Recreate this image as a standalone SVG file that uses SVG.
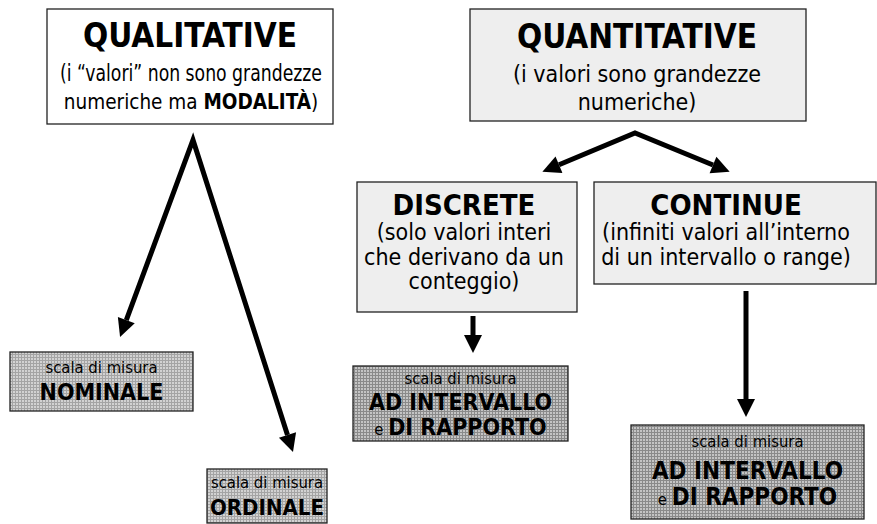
<svg xmlns="http://www.w3.org/2000/svg" width="877" height="524" viewBox="0 0 877 524">
<style>
text{font-family:"DejaVu Sans Condensed","DejaVu Sans",sans-serif;font-stretch:condensed;text-anchor:middle;fill:#000}
.t{font-weight:bold;font-size:33px}
.s{font-size:23px}
.h{font-weight:bold;font-size:29px}
.sm{font-size:16.5px}
.b{font-weight:bold;font-size:23px}
.e{font-weight:normal;font-size:16.5px}
.box{stroke:#222;stroke-width:1.3}
.arrow{fill:none;stroke:#000;stroke-width:5;stroke-linejoin:miter;stroke-miterlimit:10}
</style>
<defs>
<pattern id="gl" width="3" height="3" patternUnits="userSpaceOnUse">
<rect width="3" height="3" fill="#d2d2d2"/>
<path d="M0,0.5H3M0.5,0V3" stroke="#a4a4a4" stroke-width="1"/>
</pattern>
<pattern id="gd" width="3" height="3" patternUnits="userSpaceOnUse">
<rect width="3" height="3" fill="#c4c4c4"/>
<path d="M0,0.5H3M0.5,0V3" stroke="#8a8a8a" stroke-width="1"/>
</pattern>
<marker id="ah" markerUnits="userSpaceOnUse" markerWidth="20" markerHeight="20" refX="0" refY="9" orient="auto-start-reverse" overflow="visible">
<path d="M0,0 L18,9 L0,18 z" fill="#000"/>
</marker>
</defs>

<g id="connectors">
<polyline class="arrow" points="126.3,320.1 193,140 287.5,434.9" marker-start="url(#ah)" marker-end="url(#ah)"/>
<polyline class="arrow" stroke-width="4.5" points="559,164.8 635,133 713,165" marker-start="url(#ah)" marker-end="url(#ah)"/>
<line class="arrow" x1="473" y1="316" x2="473" y2="335" marker-end="url(#ah)"/>
<line class="arrow" x1="746" y1="291" x2="746" y2="399" marker-end="url(#ah)"/>
</g>

<g id="qualitative">
<rect class="box" x="47" y="9" width="286" height="115" fill="#fff"/>
<text class="t" x="190" y="47">QUALITATIVE</text>
<text class="s" x="191" y="81" textLength="262" lengthAdjust="spacingAndGlyphs">(i “valori” non sono grandezze</text>
<text x="191" y="109" style="font-size:20.5px">numeriche ma <tspan font-weight="bold">MODALITÀ</tspan>)</text>
</g>

<g id="quantitative">
<rect class="box" x="470" y="9" width="336" height="112" fill="#eeeeee"/>
<text class="t" x="637" y="48">QUANTITATIVE</text>
<text class="s" x="637" y="82">(i valori sono grandezze</text>
<text class="s" x="637" y="110">numeriche)</text>
</g>

<g id="discrete">
<rect class="box" x="357" y="182" width="220" height="130" fill="#eeeeee"/>
<text class="h" x="464" y="215">DISCRETE</text>
<text class="s" x="464" y="240">(solo valori interi</text>
<text class="s" x="464" y="265">che derivano da un</text>
<text class="s" x="464" y="289">conteggio)</text>
</g>

<g id="continue">
<rect class="box" x="594" y="182" width="282" height="102" fill="#eeeeee"/>
<text class="h" x="726" y="215">CONTINUE</text>
<text class="s" x="726" y="240">(infiniti valori all’interno</text>
<text class="s" x="726" y="265">di un intervallo o range)</text>
</g>

<g id="nominale">
<rect class="box" x="10" y="352" width="183" height="59" fill="url(#gl)"/>
<text class="sm" x="101.5" y="373">scala di misura</text>
<text class="b" x="101.5" y="400">NOMINALE</text>
</g>

<g id="ordinale">
<rect class="box" x="207" y="469" width="120" height="54" fill="url(#gl)"/>
<text class="sm" x="267" y="488">scala di misura</text>
<text x="267" y="515" style="font-weight:bold;font-size:22px">ORDINALE</text>
</g>

<g id="discrete-scale">
<rect class="box" x="353" y="366" width="215" height="75" fill="url(#gd)"/>
<text class="sm" x="460.5" y="384">scala di misura</text>
<text class="b" x="460.5" y="410">AD INTERVALLO</text>
<text class="b" x="460.5" y="435"><tspan class="e">e </tspan>DI RAPPORTO</text>
</g>

<g id="continue-scale">
<rect class="box" x="631" y="425" width="233" height="94" fill="url(#gd)"/>
<text class="sm" x="747.5" y="447">scala di misura</text>
<text x="747.5" y="479" style="font-weight:bold;font-size:24px">AD INTERVALLO</text>
<text x="747.5" y="505" style="font-weight:bold;font-size:24px"><tspan class="e">e </tspan>DI RAPPORTO</text>
</g>
</svg>
